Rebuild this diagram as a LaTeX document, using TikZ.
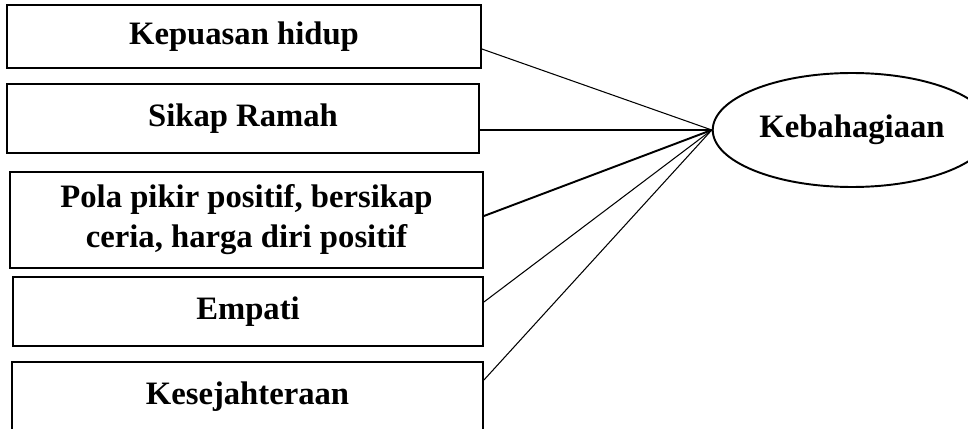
\documentclass[tikz,border=0pt]{standalone}
\usepackage{fontspec}
\setmainfont{Liberation Serif}
\usetikzlibrary{shapes.geometric,positioning}

\begin{document}
\begin{tikzpicture}[x=0.02cm, y=-0.02cm,
    factor/.style={draw, rectangle, line width=1.1pt, align=center,
        font=\fontsize{18.6}{22.8}\selectfont\bfseries},
    latent/.style={draw, ellipse, line width=1.1pt,
        font=\fontsize{18.6}{22.8}\selectfont\bfseries},
    link/.style={line width=0.6pt},
    boldlink/.style={line width=1.1pt}]
    \clip (0,0) rectangle (968,429);
    \node[factor, minimum width=9.48cm, minimum height=1.26cm] (kepuasan) at (244,36.5) {Kepuasan hidup};
    \node[factor, minimum width=9.44cm, minimum height=1.38cm] (ramah) at (243,118.5) {Sikap Ramah};
    \node[factor, minimum width=9.46cm, minimum height=1.92cm] (pola) at (246.5,220) {Pola pikir positif, bersikap\\ceria, harga diri positif};
    \node[factor, minimum width=9.40cm, minimum height=1.38cm] (empati) at (248,311.5) {Empati};
    \node[factor, minimum width=9.42cm, minimum height=1.38cm] (sejahtera) at (247.5,396.5) {Kesejahteraan};
    \node[latent, minimum width=5.16cm, minimum height=2.28cm] (bahagia) at (852,130) {Kebahagiaan};
    % garis ke kebahagiaan
    \draw[link] ([yshift=-0.25cm]kepuasan.east) -- (bahagia.west);
    \draw[boldlink] ([yshift=-0.23cm]ramah.east) -- (bahagia.west);
    \draw[boldlink] ([yshift=0.08cm]pola.east) -- (bahagia.west);
    \draw[link] ([yshift=0.19cm]empati.east) -- (bahagia.west);
    \draw[link] ([yshift=0.33cm]sejahtera.east) -- (bahagia.west);
\end{tikzpicture}
\end{document}
